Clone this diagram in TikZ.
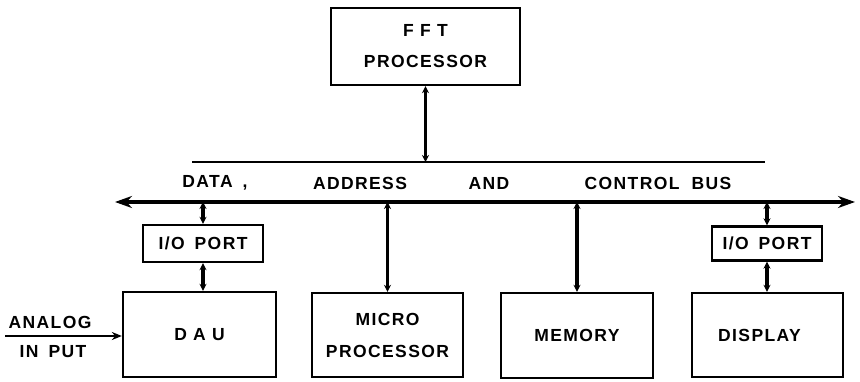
\documentclass[tikz,border=0pt]{standalone}
\usepackage{fontspec}
\newfontfamily\lblfont{Liberation Sans}[LetterSpace=8]
\usetikzlibrary{arrows.meta}
\begin{document}
\begin{tikzpicture}[x=1pt,y=-1pt,
  every node/.style={font=\lblfont\bfseries\fontsize{17.5}{20}\selectfont, inner sep=0pt},
  blk/.style={draw, line width=2.3pt, align=center},
  conn/.style={line width=3.4pt, {Stealth[length=7pt,width=7pt]}-{Stealth[length=7pt,width=7pt]}},
  busline/.style={line width=3.4pt, {Stealth[length=17pt,width=12pt]}-{Stealth[length=17pt,width=12pt]}}]
\useasboundingbox (0,0) rectangle (860,382);
% blocks
\node[blk, minimum width=189pt, minimum height=77pt] (fft) at (425.5,46.5) {F F T\\[11pt]PROCESSOR};
\node[blk, minimum width=120pt, minimum height=37pt] (io1) at (203,243.5) {I/O\hspace{10pt}PORT};
\node[blk, minimum width=110pt, minimum height=34pt] (io2) at (767,243.5) {I/O\hspace{10pt}PORT};
\node[blk, minimum width=153pt, minimum height=85pt] (dau) at (199.5,334.5) {D A U};
\node[blk, minimum width=151pt, minimum height=84pt] (micro) at (387.5,335) {MICRO\\[12pt]PROCESSOR};
\node[blk, minimum width=152pt, minimum height=85pt] (mem) at (577,335.5) {MEMORY};
\node[blk, minimum width=151pt, minimum height=84pt] (disp) at (767.5,335) {\hspace*{-16pt}DISPLAY};
% bus
\coordinate (busL) at (115,202);
\coordinate (busR) at (855,202);
\coordinate (tl) at (192,162);
\coordinate (tr) at (765,162);
\draw[busline] (busL) -- (busR);
\draw[line width=2.6pt] (tl) -- (tr);
\node (l1) at (215,183) {DATA\hspace{10pt},};
\node (l2) at (360,183) {ADDRESS};
\node (l3) at (489,183) {AND};
\node (l4) at (658,183) {CONTROL\hspace{12pt}BUS};
% connectors
\draw[conn] (fft.south) -- (fft.south |- tl);
\draw[conn] (io1.north) -- (io1.north |- busL);
\draw[conn] (io1.south) -- (io1.south |- dau.north);
\draw[conn] (micro.north) -- (micro.north |- busL);
\draw[conn] (mem.north) -- (mem.north |- busL);
\draw[conn] (io2.north) -- (io2.north |- busR);
\draw[conn] (io2.south) -- (io2.south |- disp.north);
% analog input
\coordinate (ain) at (5,336);
\draw[line width=2.6pt, -{Stealth[length=10pt,width=8pt]}] (ain) -- (ain -| dau.west);
\node (an1) at (50,322) {ANALOG};
\node (an2) at (53,352) {IN\hspace{10pt}PUT};
\end{tikzpicture}
\end{document}
